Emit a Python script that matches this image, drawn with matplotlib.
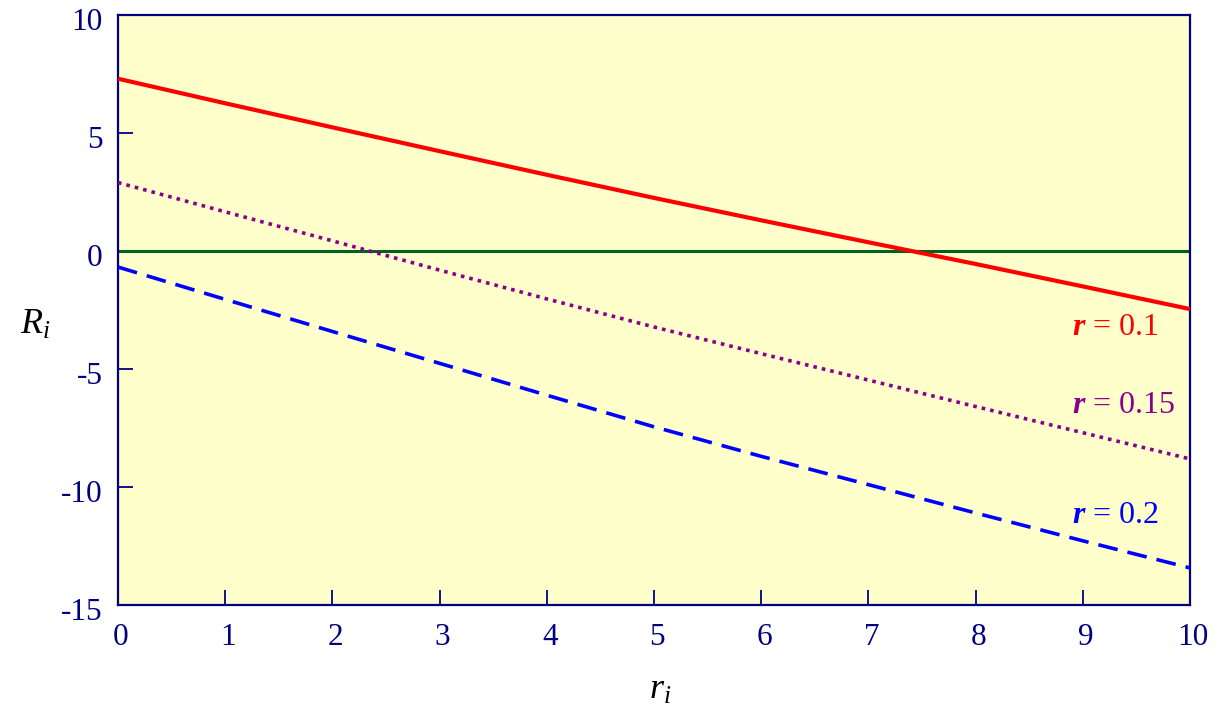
import matplotlib
matplotlib.use("Agg")
import matplotlib.pyplot as plt
from matplotlib.transforms import ScaledTranslation

plt.rcParams["font.family"] = ["Liberation Serif", "DejaVu Serif"]
plt.rcParams["mathtext.fontset"] = "custom"
plt.rcParams["mathtext.rm"] = "Liberation Serif"
plt.rcParams["mathtext.it"] = "Liberation Serif:italic"
plt.rcParams["mathtext.bf"] = "Liberation Serif:bold"
plt.rcParams["mathtext.bfit"] = "Liberation Serif:italic:bold"

# rates r_i
r_vals = [0, 1, 2, 3, 4, 5, 6, 7, 8, 9, 10]
# R_i for each discount parameter
R_01 = [7.30, 6.26, 5.24, 4.23, 3.23, 2.25, 1.30, 0.37, -0.55, -1.50, -2.46]
R_015 = [2.90, 1.66, 0.43, -0.81, -2.03, -3.22, -4.35, -5.47, -6.59, -7.70, -8.81]
R_02 = [-0.68, -2.05, -3.41, -4.76, -6.11, -7.45, -8.70, -9.90, -11.10, -12.28, -13.43]
rho_labels = ["0.1", "0.15", "0.2"]

x_ticks = [0, 1, 2, 3, 4, 5, 6, 7, 8, 9, 10]
y_ticks = [-15, -10, -5, 0, 5, 10]

navy = "#000080"

fig = plt.figure(figsize=(12.17, 7.17), dpi=100)
ax = fig.add_axes([118 / 1217, 1 - 605 / 717, (1190 - 118) / 1217, (605 - 15) / 717])
ax.set_facecolor("#FFFFCC")

ax.axhline(0, color="#006020", lw=2.2, zorder=2)
ax.plot(r_vals, R_01, color="#FF0000", lw=3.0, solid_capstyle="butt", zorder=3)
ax.plot(r_vals, R_015, color="#8B008B", lw=2.6, linestyle=(0, (1, 1.4)), zorder=3)
ax.plot(r_vals, R_02, color="#0000FF", lw=2.6, linestyle=(0, (5.5, 2.8)), zorder=3)

ax.set_xlim(0, 10)
ax.set_ylim(-15, 10)
ax.set_xticks(x_ticks)
ax.set_yticks(y_ticks)
ax.set_xticklabels([str(v) for v in x_ticks])
ax.set_yticklabels([str(v) for v in y_ticks])

for s in ax.spines.values():
    s.set_color(navy)
    s.set_linewidth(1.6)

ax.tick_params(axis="both", direction="in", length=11, width=1.3, color=navy,
               labelcolor=navy, labelsize=22.5)
ax.tick_params(axis="x", pad=13)
ax.tick_params(axis="y", pad=11)
# hide tick marks that coincide with the frame
for t in ax.xaxis.get_major_ticks()[:1] + ax.xaxis.get_major_ticks()[-1:]:
    t.tick1line.set_visible(False)
for t in ax.yaxis.get_major_ticks()[:1] + ax.yaxis.get_major_ticks()[-1:]:
    t.tick1line.set_visible(False)
# y labels sit a little below their ticks, x labels a little right
for lab in ax.get_yticklabels():
    lab.set_transform(lab.get_transform() + ScaledTranslation(0, -0.04, fig.dpi_scale_trans))
for lab in ax.get_xticklabels():
    lab.set_transform(lab.get_transform() + ScaledTranslation(0.03, 0, fig.dpi_scale_trans))

label_x = 8.9
ax.text(label_x, -3.25, r"$\mathbfit{r}$ = " + rho_labels[0], color="#FF0000",
        fontsize=23, va="center", ha="left")
ax.text(label_x, -6.55, r"$\mathbfit{r}$ = " + rho_labels[1], color="#8B008B",
        fontsize=23, va="center", ha="left")
ax.text(label_x, -11.2, r"$\mathbfit{r}$ = " + rho_labels[2], color="#0000FF",
        fontsize=23, va="center", ha="left")

fig.text(35 / 1217, 1 - 325 / 717, r"$R_i$", fontsize=26, color="black",
         ha="center", va="center")
fig.text(660 / 1217, 1 - 690 / 717, r"$r_i$", fontsize=26, color="black",
         ha="center", va="center")

fig.savefig("out.png", dpi=100)
